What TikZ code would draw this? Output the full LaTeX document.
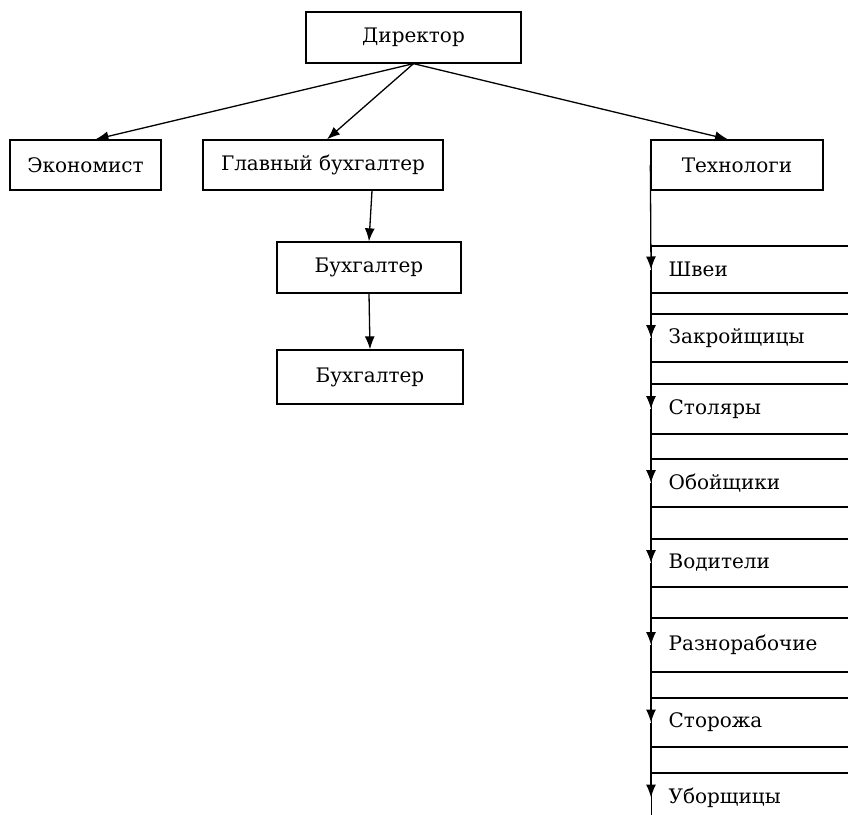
\documentclass[tikz,border=0pt]{standalone}
\usepackage{fontspec}
\setmainfont{DejaVu Serif}
\usetikzlibrary{arrows.meta}

\begin{document}
\begin{tikzpicture}
  [x=1pt,y=-1pt,line width=1.3pt,
   every node/.style={draw,inner sep=0pt,font=\fontsize{20}{24}\selectfont},
   post/.style={minimum height=51pt,align=center},
   shop/.style={anchor=west,inner xsep=17pt,text width=200pt,align=left},
   arr/.style={-{Latex[length=13pt,width=10pt]}}]

  \useasboundingbox (0,0) rectangle (848,814);
  \clip (0,0) rectangle (848,814);

  \node[post,minimum width=215pt] (A) at (413.5,37.5) {Директор};
  \node[post,minimum width=151pt,minimum height=50pt] (B) at (85.5,165) {Экономист};
  \node[post,minimum width=240pt,minimum height=50pt] (C) at (323,165) {Главный бухгалтер};
  \node[post,minimum width=172pt,minimum height=50pt] (D) at (737,165) {Технологи};
  \node[post,minimum width=184pt] (E) at (369,267.5) {Бухгалтер};
  \node[post,minimum width=186pt,minimum height=54pt] (F) at (370,377) {Бухгалтер};

  \node[shop,minimum height=47pt] (G) at (651,269.5) {Швеи};
  \node[shop,minimum height=48pt] (H) at (651,338)   {Закройщицы};
  \node[shop,minimum height=50pt] (I) at (651,409)   {Столяры};
  \node[shop,minimum height=48pt] (J) at (651,483)   {Обойщики};
  \node[shop,minimum height=48pt] (K) at (651,563)   {Водители};
  \node[shop,minimum height=54pt] (L) at (651,645)   {Разнорабочие};
  \node[shop,minimum height=49pt] (M) at (651,722.5) {Сторожа};
  \node[shop,minimum height=49pt] (N) at (651,797.5) {Уборщицы};

  \draw[arr] (A.south) -- ([xshift=10pt]B.north);
  \draw[arr] (A.south) -- ([xshift=4pt]C.north);
  \draw[arr] (A.south) -- ([xshift=-9pt]D.north);
  \draw[arr] ([xshift=49pt]C.south) -- (E.north);
  \draw[arr] (E.south) -- (F.north);

  \foreach \from/\to in {D/G,G/H,H/I,I/J,J/K,K/L,L/M,M/N}
    \draw[arr] (\from.west) -- (\to.west);

\end{tikzpicture}
\end{document}
